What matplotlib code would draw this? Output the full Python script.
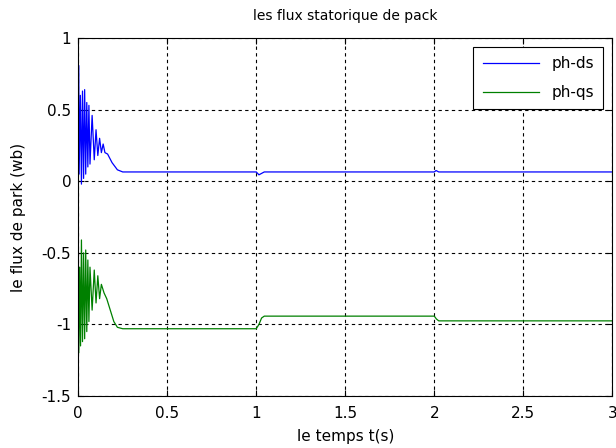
import numpy as np
import matplotlib.pyplot as plt

plt.rcParams['font.family'] = ['DejaVu Sans']
plt.rcParams['font.size'] = 11

# flux d : temps (s) / valeur (wb)
t_ds = [0.0, 0.002, 0.005, 0.012, 0.018, 0.024, 0.030, 0.036, 0.042, 0.048,
        0.054, 0.060, 0.066, 0.078, 0.090, 0.100, 0.110, 0.120, 0.130, 0.140,
        0.150, 0.165, 0.190, 0.220, 0.250, 1.000, 1.015, 1.030, 1.045, 2.000,
        2.010, 2.025, 3.000]
ph_ds = [0.0, 0.81, 0.05, 0.60, -0.02, 0.63, 0.02, 0.64, 0.05, 0.55,
         0.10, 0.53, 0.12, 0.46, 0.15, 0.36, 0.18, 0.30, 0.20, 0.26,
         0.20, 0.19, 0.13, 0.08, 0.065, 0.065, 0.045, 0.055, 0.065, 0.065,
         0.075, 0.065, 0.065]

# flux q
t_qs = [0.0, 0.002, 0.008, 0.013, 0.018, 0.024, 0.030, 0.036, 0.042, 0.048,
        0.054, 0.060, 0.066, 0.078, 0.090, 0.100, 0.110, 0.120, 0.130, 0.145,
        0.160, 0.180, 0.200, 0.220, 0.250, 1.000, 1.015, 1.030, 1.045, 2.000,
        2.012, 2.025, 3.000]
ph_qs = [0.0, -1.20, -0.60, -1.15, -0.41, -1.12, -0.50, -1.10, -0.48, -1.05,
         -0.55, -0.98, -0.60, -0.90, -0.62, -0.85, -0.66, -0.82, -0.72, -0.78,
         -0.82, -0.90, -0.98, -1.02, -1.03, -1.03, -1.00, -0.955, -0.942, -0.942,
         -0.962, -0.975, -0.975]

xticks = [0, 0.5, 1, 1.5, 2, 2.5, 3]
yticks = [-1.5, -1, -0.5, 0, 0.5, 1]

fig = plt.figure(figsize=(6.16, 4.48), dpi=100)
ax = fig.add_axes([0.127, 0.116, 0.867, 0.799])

ax.plot(t_ds, ph_ds, color='#0000ff', lw=0.9, label='ph-ds')
ax.plot(t_qs, ph_qs, color='#008000', lw=0.9, label='ph-qs')

ax.set_xlim(0, 3)
ax.set_ylim(-1.5, 1)
ax.set_xticks(xticks)
ax.set_xticklabels(['0', '0.5', '1', '1.5', '2', '2.5', '3'])
ax.set_yticks(yticks)
ax.set_yticklabels(['-1.5', '-1', '-0.5', '0', '0.5', '1'])
ax.tick_params(direction='in', top=True, right=True, length=4, width=0.8)
ax.tick_params(axis='x', pad=7)
ax.tick_params(axis='y', pad=5)
ax.grid(True, color='black', linestyle=(0, (3, 3)), lw=0.8)
for s in ax.spines.values():
    s.set_linewidth(0.8)

ax.set_title('les flux statorique de pack', fontsize=10, pad=13)
ax.set_xlabel('le temps t(s)', labelpad=6)
ax.set_ylabel('le flux de park (wb)', labelpad=11)

leg = ax.legend(loc='upper right', fancybox=False, edgecolor='black',
                framealpha=1, handlelength=3.7, labelspacing=0.9,
                borderpad=0.6, borderaxespad=0.6)
leg.get_frame().set_linewidth(0.8)

fig.savefig('out.png', dpi=100)
